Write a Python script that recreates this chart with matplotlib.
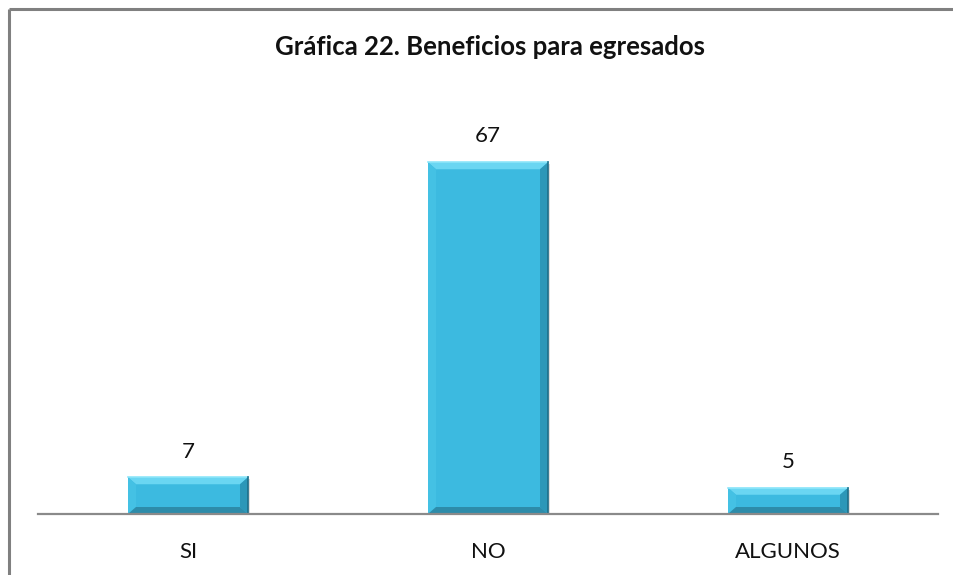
import matplotlib
matplotlib.use("Agg")
import matplotlib.pyplot as plt
from matplotlib.patches import Polygon, Rectangle
from matplotlib.lines import Line2D

categories = ["SI", "NO", "ALGUNOS"]
values = [7, 67, 5]
title = "Gráfica 22. Beneficios para egresados"

plt.rcParams["font.family"] = ["Lato", "DejaVu Sans"]

fig = plt.figure(figsize=(9.54, 5.75), dpi=100)
ax = fig.add_axes([38 / 954, 61 / 575, 900 / 954, 420 / 575])

# outer chart frame (only left and top edges visible)
fy = 1 - 9 / 575
fx = 9 / 954
fig.add_artist(Line2D([fx, fx], [-0.05, fy], transform=fig.transFigure,
                      color="#808080", linewidth=2.2, solid_capstyle="butt"))
fig.add_artist(Line2D([fx, 1.05], [fy, fy], transform=fig.transFigure,
                      color="#808080", linewidth=2.2, solid_capstyle="butt"))

x = range(len(categories))
bars = ax.bar(x, values, width=0.4, color="#3CBAE0", zorder=3)
ax.set_xlim(-0.5, 2.5)
ax.set_ylim(0, 80)

# bevel size in data units (about 8 px)
bx = 8 * 3 / 900
by = 7 * 80 / 420
for b in bars:
    x0, y0 = b.get_x(), b.get_y()
    x1, y1 = x0 + b.get_width(), y0 + b.get_height()
    # soft shadow
    ax.add_patch(Rectangle((x0 + 0.006, y0 - 0.35), b.get_width(), b.get_height(),
                           color="#c8c8c8", alpha=0.6, zorder=2, lw=0))
    ax.add_patch(Polygon([(x0, y1), (x1, y1), (x1 - bx, y1 - by), (x0 + bx, y1 - by)],
                         closed=True, color="#6AD6F2", zorder=4, lw=0))
    ax.add_patch(Polygon([(x0, y0), (x0, y1), (x0 + bx, y1 - by), (x0 + bx, y0 + by)],
                         closed=True, color="#44C1E4", zorder=4, lw=0))
    ax.add_patch(Polygon([(x1, y0), (x1, y1), (x1 - bx, y1 - by), (x1 - bx, y0 + by)],
                         closed=True, color="#2C97B8", zorder=4, lw=0))
    ax.add_patch(Polygon([(x0, y0), (x1, y0), (x1 - bx, y0 + by), (x0 + bx, y0 + by)],
                         closed=True, color="#2D8CAA", zorder=4, lw=0))
    ax.plot([x0, x1], [y1, y1], color="#8FE6FA", lw=1.2, zorder=5)
    ax.plot([x1, x1], [y0, y1], color="#1E6E88", lw=1.2, zorder=5)

for i, v in enumerate(values):
    ax.text(i, v + 3.0, str(v), ha="center", va="bottom", fontsize=16, color="#111111")

ax.set_xticks(list(x))
ax.set_xticklabels(categories, fontsize=16, color="#111111")
ax.tick_params(axis="x", length=0, pad=20)
ax.set_yticks([])
for s in ["top", "right", "left"]:
    ax.spines[s].set_visible(False)
ax.spines["bottom"].set_color("#8a8a8a")
ax.spines["bottom"].set_linewidth(1.6)
ax.spines["bottom"].set_zorder(6)

fig.text(490 / 954, 1 - 47 / 575, title, ha="center", va="center",
         fontsize=18.5, fontweight="bold", color="#111111")

fig.savefig("out.png", dpi=100)
